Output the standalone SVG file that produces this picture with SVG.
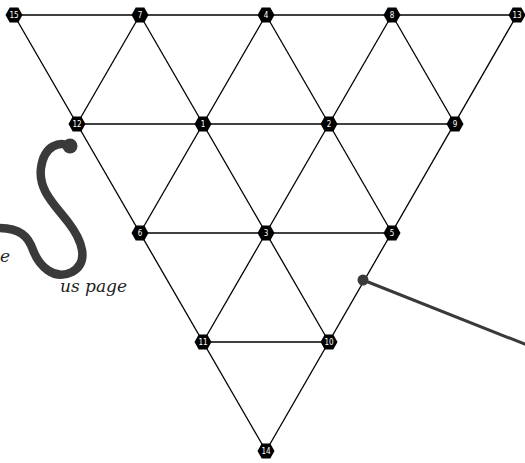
<svg xmlns="http://www.w3.org/2000/svg" width="525" height="463" viewBox="0 0 525 463">
<defs>
<style>
.e{stroke:#000;stroke-width:1.3;fill:none}
.hx{fill:#000}
.lb{fill:#fff;font-family:"DejaVu Sans Condensed","DejaVu Sans",sans-serif;font-size:8px;text-anchor:middle;dominant-baseline:central}
.ann{stroke:#3a3a3a;fill:none;stroke-linecap:round}
.note{font-family:"DejaVu Serif","Liberation Serif",serif;font-style:italic;font-size:17px;fill:#222}
</style>
<polygon id="hex" points="-8.5,0 -4.3,-7.4 4.3,-7.4 8.5,0 4.3,7.4 -4.3,7.4"/>
</defs>
<rect width="525" height="463" fill="#fff"/>
<g id="connectors">
<line class="e" x1="14" y1="15" x2="517" y2="15"/>
<line class="e" x1="77" y1="124" x2="455" y2="124"/>
<line class="e" x1="140" y1="233" x2="392" y2="233"/>
<line class="e" x1="203" y1="342" x2="329" y2="342"/>
<line class="e" x1="14" y1="15" x2="266" y2="451"/>
<line class="e" x1="140" y1="15" x2="329" y2="342"/>
<line class="e" x1="266" y1="15" x2="392" y2="233"/>
<line class="e" x1="392" y1="15" x2="455" y2="124"/>
<line class="e" x1="517" y1="15" x2="266" y2="451"/>
<line class="e" x1="392" y1="15" x2="203" y2="342"/>
<line class="e" x1="266" y1="15" x2="140" y2="233"/>
<line class="e" x1="140" y1="15" x2="77" y2="124"/>
</g>
<g id="annotations">
<path class="ann" stroke-width="8.5" d="M70,146 C60,141 44,145 41,168 C38,190 55,205 68,222 C82,240 90,262 72,272 C54,281 39,266 33,250 C28,236 20,228 -2,228"/>
<circle cx="70" cy="146" r="7.5" fill="#3a3a3a"/>
<line class="ann" stroke-width="3" x1="363" y1="280" x2="527" y2="345"/>
<circle cx="363" cy="280" r="5.5" fill="#3a3a3a"/>
<text class="note" x="10" y="262" text-anchor="end">e</text>
<text class="note" x="127" y="292" text-anchor="end">us page</text>
</g>
<g id="n15"><use href="#hex" x="14" y="15" class="hx"/><text class="lb" x="14" y="15">15</text></g>
<g id="n7"><use href="#hex" x="140" y="15" class="hx"/><text class="lb" x="140" y="15">7</text></g>
<g id="n4"><use href="#hex" x="266" y="15" class="hx"/><text class="lb" x="266" y="15">4</text></g>
<g id="n8"><use href="#hex" x="392" y="15" class="hx"/><text class="lb" x="392" y="15">8</text></g>
<g id="n13"><use href="#hex" x="517" y="15" class="hx"/><text class="lb" x="517" y="15">13</text></g>
<g id="n12"><use href="#hex" x="77" y="124" class="hx"/><text class="lb" x="77" y="124">12</text></g>
<g id="n1"><use href="#hex" x="203" y="124" class="hx"/><text class="lb" x="203" y="124">1</text></g>
<g id="n2"><use href="#hex" x="329" y="124" class="hx"/><text class="lb" x="329" y="124">2</text></g>
<g id="n9"><use href="#hex" x="455" y="124" class="hx"/><text class="lb" x="455" y="124">9</text></g>
<g id="n6"><use href="#hex" x="140" y="233" class="hx"/><text class="lb" x="140" y="233">6</text></g>
<g id="n3"><use href="#hex" x="266" y="233" class="hx"/><text class="lb" x="266" y="233">3</text></g>
<g id="n5"><use href="#hex" x="392" y="233" class="hx"/><text class="lb" x="392" y="233">5</text></g>
<g id="n11"><use href="#hex" x="203" y="342" class="hx"/><text class="lb" x="203" y="342">11</text></g>
<g id="n10"><use href="#hex" x="329" y="342" class="hx"/><text class="lb" x="329" y="342">10</text></g>
<g id="n14"><use href="#hex" x="266" y="451" class="hx"/><text class="lb" x="266" y="451">14</text></g>
</svg>
